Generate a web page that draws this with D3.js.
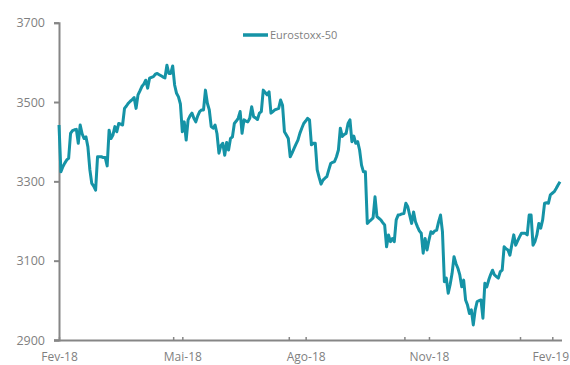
<!DOCTYPE html>
<html>
<head>
<meta charset="utf-8">
<script src="https://cdn.jsdelivr.net/npm/d3@7/dist/d3.min.js"></script>
<style>
  html, body { margin: 0; padding: 0; background: #ffffff; }
  svg { display: block; }
  text { font-family: "Open Sans", "Noto Sans", sans-serif; fill: #7f7f7f; }
</style>
</head>
<body>
<div id="chart"></div>
<script>
// ---- Data (daily closes, Eurostoxx-50, Feb-2018 .. Feb-2019) ----
const seriesName = "Eurostoxx-50";
const values = [
  3442, 3324, 3337, 3346, 3354, 3358, 3421, 3428, 3430, 3431,
  3396, 3442, 3420, 3408, 3412, 3387, 3330, 3295, 3288, 3278,
  3362, 3362, 3362, 3360, 3360, 3339, 3429, 3408, 3417, 3438,
  3425, 3446, 3444, 3442, 3484, 3490, 3497, 3502, 3506, 3511,
  3484, 3518, 3528, 3539, 3545, 3555, 3535, 3560, 3562, 3564,
  3570, 3572, 3569, 3566, 3563, 3561, 3593, 3572, 3572, 3591,
  3543, 3522, 3513, 3495, 3425, 3450, 3404, 3455, 3465, 3472,
  3459, 3450, 3465, 3476, 3480, 3480, 3530, 3497, 3480, 3438,
  3434, 3442, 3420, 3371, 3390, 3396, 3366, 3398, 3379, 3408,
  3412, 3446, 3452, 3459, 3476, 3421, 3455, 3452, 3450, 3459,
  3488, 3463, 3460, 3456, 3472, 3476, 3530, 3524, 3518, 3526,
  3472, 3476, 3480, 3482, 3484, 3505, 3492, 3425, 3417, 3408,
  3362, 3372, 3383, 3394, 3404, 3421, 3434, 3446, 3452, 3459,
  3455, 3392, 3396, 3396, 3329, 3310, 3293, 3303, 3308, 3312,
  3329, 3345, 3348, 3350, 3362, 3379, 3434, 3413, 3418, 3421,
  3446, 3455, 3400, 3414, 3396, 3400, 3379, 3341, 3324, 3324,
  3194, 3199, 3203, 3208, 3261, 3211, 3207, 3203, 3196, 3190,
  3135, 3165, 3148, 3156, 3148, 3203, 3215, 3216, 3218, 3219,
  3245, 3236, 3215, 3194, 3223, 3198, 3186, 3175, 3169, 3119,
  3156, 3127, 3152, 3173, 3169, 3175, 3177, 3198, 3215, 3173,
  3047, 3056, 3018, 3040, 3068, 3110, 3093, 3081, 3064, 3034,
  3051, 3001, 2988, 2967, 2976, 2938, 2976, 2997, 2999, 3001,
  2955, 3043, 3034, 3051, 3065, 3076, 3064, 3060, 3056, 3072,
  3076, 3135, 3130, 3127, 3114, 3140, 3165, 3139, 3150, 3160,
  3169, 3169, 3169, 3165, 3215, 3215, 3139, 3148, 3165, 3194,
  3182, 3203, 3245, 3246, 3245, 3266, 3270, 3274, 3282, 3291,
  3299
];
// x-axis labels and the trading-day index where each sits
const xTickLabels = ["Fev-18", "Mai-18", "Ago-18", "Nov-18", "Fev-19"];
const xTickIndex  = [0, 64, 128, 192, 256];
const xMinorTickIndex = [60, 120, 180, 240];
// y-axis ticks
const yTicks = [2900, 3100, 3300, 3500, 3700];

// ---- Layout ----
const W = 570, H = 365;
const mLeft = 59, mRight = 560, mTop = 22.7, mBottom = 340;
const axisColor = "#868686";
const lineColor = "#1593a6";

const svg = d3.select("#chart").append("svg")
  .attr("width", W).attr("height", H);

const x = d3.scaleLinear().domain([0, values.length - 1]).range([mLeft, mRight]);
const y = d3.scaleLinear().domain([2900, 3700]).range([mBottom, mTop]);

// Y axis
const yAxis = d3.axisLeft(y).tickValues(yTicks).tickSize(5).tickPadding(9)
  .tickFormat(d3.format("d"));
const gy = svg.append("g").attr("transform", `translate(${mLeft},0)`).call(yAxis);
gy.select(".domain").attr("stroke", axisColor).attr("stroke-width", 2);
gy.selectAll(".tick line").attr("stroke", axisColor).attr("stroke-width", 2);
gy.selectAll(".tick text").attr("fill", "#7f7f7f")
  .style("font-size", "12.5px").style("font-family", '"Open Sans", sans-serif');

// X axis (labels)
const xAxis = d3.axisBottom(x).tickValues(xTickIndex).tickSizeInner(-3).tickSizeOuter(0).tickPadding(12)
  .tickFormat((d, i) => xTickLabels[i]);
const gx = svg.append("g").attr("transform", `translate(0,${mBottom})`).call(xAxis);
gx.select(".domain").attr("stroke", axisColor).attr("stroke-width", 2)
  .attr("d", `M${mLeft - 5},0.5H${mRight + 2}`);
gx.selectAll(".tick line").attr("stroke", axisColor).attr("stroke-width", 1.5);
gx.selectAll(".tick text").attr("fill", "#7f7f7f")
  .style("font-size", "12px").style("font-family", '"Open Sans", sans-serif')
  .attr("dx", (d, i) => i === xTickLabels.length - 1 ? -2 : 0);

// minor ticks
const xMinor = d3.axisBottom(x).tickValues(xMinorTickIndex.map(d => d - 0.75))
  .tickSizeInner(-3).tickSizeOuter(0).tickFormat("");
const gxm = svg.append("g").attr("transform", `translate(0,${mBottom})`).call(xMinor);
gxm.select(".domain").remove();
gxm.selectAll(".tick line").attr("stroke", axisColor).attr("stroke-width", 1.5);

// Line
const line = d3.line().x((d, i) => x(i)).y(d => y(d));
svg.append("path").datum(values)
  .attr("fill", "none").attr("stroke", lineColor).attr("stroke-width", 3)
  .attr("stroke-linejoin", "round")
  .attr("d", line);

// Legend
const lg = svg.append("g");
lg.append("line").attr("x1", 243).attr("x2", 268).attr("y1", 35).attr("y2", 35)
  .attr("stroke", lineColor).attr("stroke-width", 3.5);
lg.append("text").attr("x", 270).attr("y", 39)
  .style("font-size", "11px").text(seriesName);
</script>
</body>
</html>
